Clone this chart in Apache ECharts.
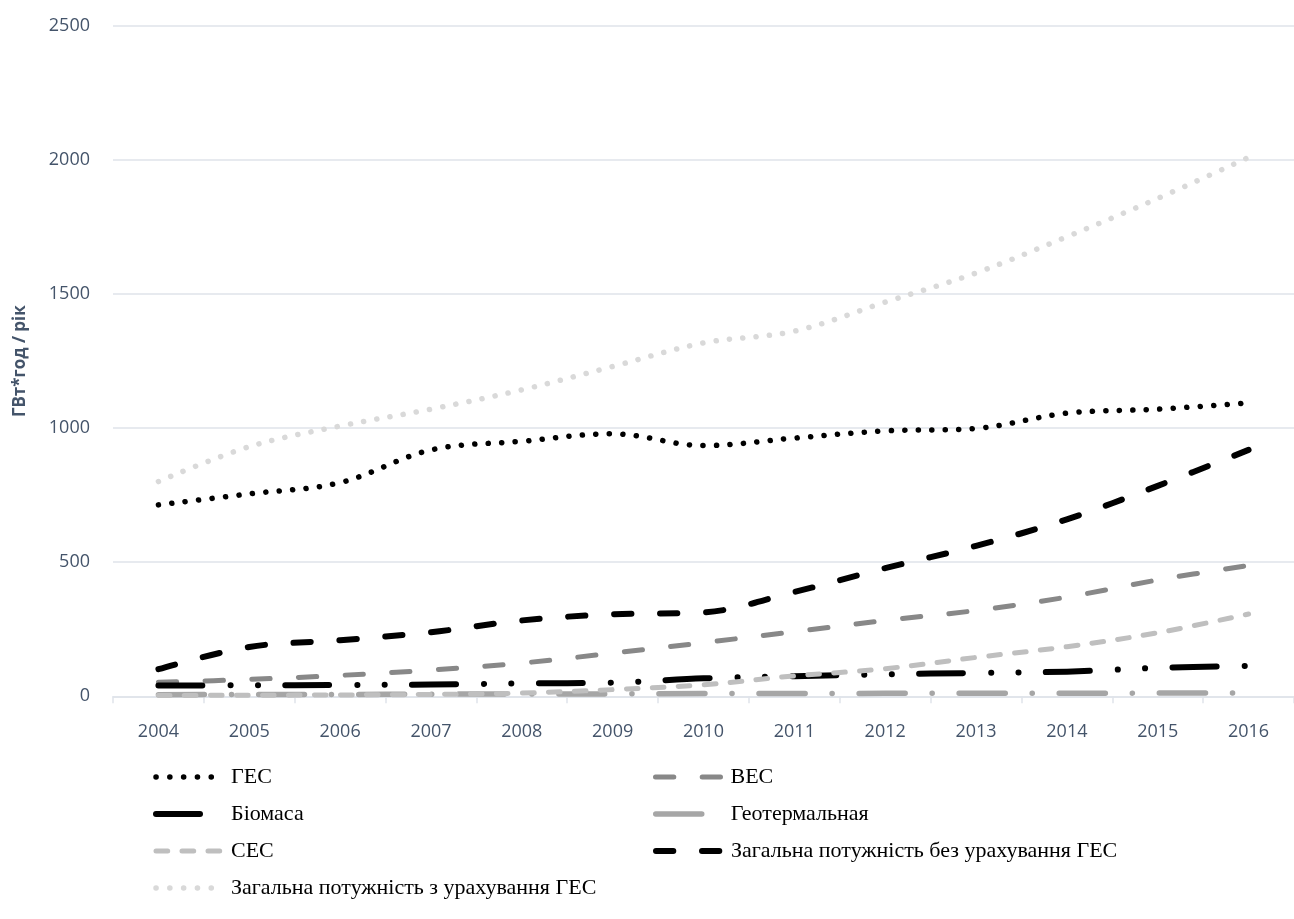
<!DOCTYPE html>
<html>
<head>
<meta charset="utf-8">
<title>Виробництво електроенергії з ВДЕ</title>
<script src="https://cdn.jsdelivr.net/npm/echarts@6/dist/echarts.min.js"></script>
<style>
  html, body { margin: 0; padding: 0; background: #ffffff; }
  #chart { width: 1294px; height: 919px; }
</style>
</head>
<body>
<div id="chart"></div>
<script>
// Роки та виробництво, ГВт*год / рік
const years = ['2004', '2005', '2006', '2007', '2008', '2009', '2010', '2011', '2012', '2013', '2014', '2015', '2016'];
const hes = [714, 755, 797, 919, 951, 979, 935, 963, 990, 999, 1056, 1071, 1094];
const ves = [52, 63, 78, 98, 124, 161, 200, 241, 283, 320, 370, 434, 488];
const biomass = [40, 41, 42, 44, 48, 51, 67, 75, 82, 87, 92, 106, 113];
const geothermal = [6, 7, 7, 8, 9, 9, 10, 10, 11, 11, 11, 12, 12];
const ses = [3, 4, 5, 7, 12, 25, 43, 76, 103, 145, 185, 237, 307];
const totalWithoutHes = [101, 184, 209, 239, 283, 306, 313, 389, 478, 561, 660, 785, 919];
const totalWithHes = [801, 931, 1008, 1071, 1143, 1230, 1318, 1362, 1470, 1579, 1714, 1857, 2010];
const yTicks = { min: 0, max: 2500, interval: 500 };

const axisText = '#44546a';
const gridColor = '#dfe3ea';

function lineSeries(name, data, color, width, dash) {
  return {
    name: name,
    type: 'line',
    data: data,
    symbol: 'none',
    smooth: 0.35,
    itemStyle: { color: color },
    lineStyle: { color: color, width: width, type: dash, cap: 'round', join: 'round' },
    emphasis: { disabled: true }
  };
}

const series = [
  lineSeries('ГЕС', hes, '#000000', 5.5, [0.1, 13.4]),
  lineSeries('ВЕС', ves, '#888888', 5, [18.3, 28.4]),
  lineSeries('Біомаса', biomass, '#000000', 6, [44, 28, 0.1, 27.3, 0.1, 27.3]),
  lineSeries('Геотермальная', geothermal, '#a6a6a6', 5.5, [46, 27, 0.1, 27]),
  lineSeries('СЕС', ses, '#bfbfbf', 5, [11.7, 14.3]),
  lineSeries('Загальна потужність без урахування ГЕС', totalWithoutHes, '#000000', 6, [17.3, 28.7]),
  lineSeries('Загальна потужність з урахування ГЕС', totalWithHes, '#d9d9d9', 5.5, [0.1, 13.3])
];

// five round dots in the legend swatch of the dotted series
const legendDots = [0.1, 13.7, 0.1, 13.7, 0.1, 13.7, 0.1, 13.7, 0.1, 40];

const chart = echarts.init(document.getElementById('chart'), null, { renderer: 'canvas' });
chart.setOption({
  animation: false,
  backgroundColor: '#ffffff',
  grid: { left: 113, right: -7.6, top: 26, bottom: 222.7 },
  legend: {
    left: 148,
    top: 761,
    width: 1000,
    orient: 'horizontal',
    itemWidth: 70,
    itemHeight: 14,
    itemGap: 15,
    selectedMode: false,
    itemStyle: { opacity: 0 },
    lineStyle: { width: 'inherit', type: 'inherit', cap: 'inherit' },
    textStyle: {
      fontFamily: 'Liberation Serif',
      fontSize: 22,
      color: '#000000',
      width: 407,
      height: 17,
      lineHeight: 17,
      overflow: 'none'
    },
    data: [
      { name: 'ГЕС', lineStyle: { type: legendDots } },
      { name: 'ВЕС' },
      { name: 'Біомаса' },
      { name: 'Геотермальная' },
      { name: 'СЕС' },
      { name: 'Загальна потужність без урахування ГЕС' },
      { name: 'Загальна потужність з урахування ГЕС', lineStyle: { type: legendDots } }
    ]
  },
  xAxis: {
    type: 'category',
    data: years,
    boundaryGap: true,
    axisLine: { show: true, lineStyle: { color: gridColor, width: 1.5 } },
    axisTick: { show: true, length: 7, lineStyle: { color: gridColor, width: 1.5 } },
    axisLabel: { color: axisText, fontFamily: 'Open Sans', fontSize: 18, margin: 27 },
    splitLine: { show: false }
  },
  yAxis: {
    type: 'value',
    min: yTicks.min,
    max: yTicks.max,
    interval: yTicks.interval,
    name: 'ГВт*год / рік',
    nameLocation: 'middle',
    nameRotate: 90,
    nameGap: 84,
    nameTextStyle: { color: axisText, fontFamily: 'Open Sans', fontSize: 17, fontWeight: 'bold' },
    axisLine: { show: false },
    axisTick: { show: false },
    axisLabel: {
      color: axisText, fontFamily: 'Open Sans', fontSize: 18, margin: 23,
      formatter: function (v) { return String(v); }
    },
    splitLine: { show: true, lineStyle: { color: gridColor, width: 1.5 } }
  },
  series: series
});
</script>
</body>
</html>
